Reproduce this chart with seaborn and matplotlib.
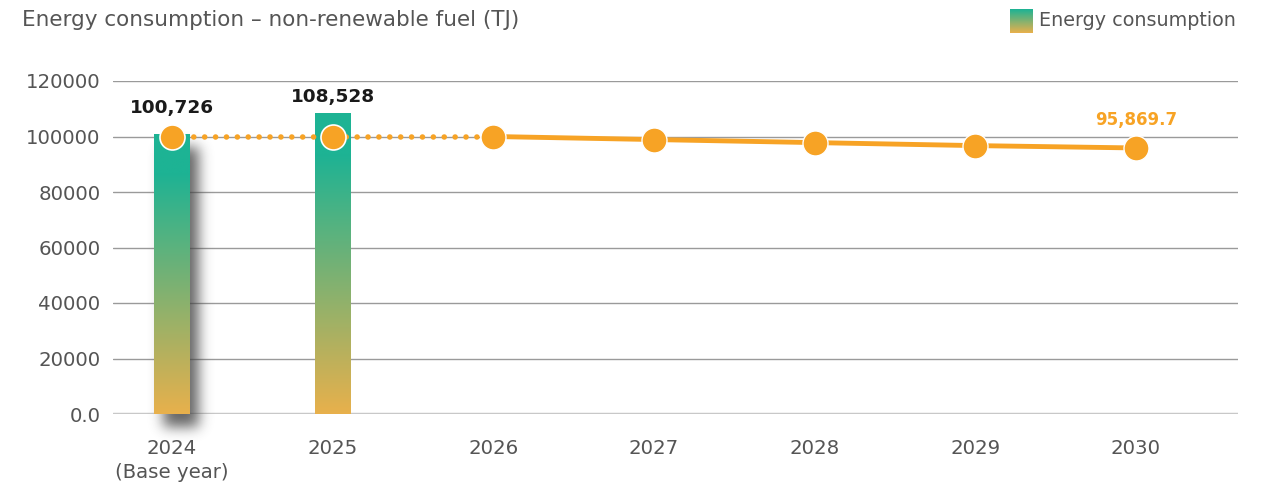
import numpy as np
import pandas as pd
import matplotlib
matplotlib.use("Agg")
import matplotlib.pyplot as plt
import seaborn as sns
from matplotlib.colors import LinearSegmentedColormap

# ---------------- data ----------------
years = [2024, 2025, 2026, 2027, 2028, 2029, 2030]
year_labels = ["2024\n(Base year)", "2025", "2026", "2027", "2028", "2029", "2030"]
bar_years = [2024, 2025]
bar_values = [100726, 108528]
bar_labels = ["100,726", "108,528"]
dotted_years = [2024, 2025, 2026]
dotted_values = [100000, 100000, 100000]
solid_years = [2026, 2027, 2028, 2029, 2030]
solid_values = [100000, 98900, 97800, 96720, 95869.7]
end_label = "95,869.7"
yticks = [0, 20000, 40000, 60000, 80000, 100000, 120000]
ytick_labels = ["0.0", "20000", "40000", "60000", "80000", "100000", "120000"]
title = "Energy consumption \u2013 non-renewable fuel (TJ)"
legend_label = "Energy consumption"

# ---------------- style ----------------
sns.set_theme(style="white")
plt.rcParams["font.family"] = ["DejaVu Sans"]
TEXT = "#555555"
ORANGE = "#f7a325"
TEAL = "#1db394"
GOLD = "#e8b04c"
cmap = LinearSegmentedColormap.from_list(
    "bargrad", [(0.0, GOLD), (0.86, TEAL), (1.0, TEAL)])

W_PX, H_PX = 1278, 488
fig = plt.figure(figsize=(W_PX / 100, H_PX / 100), dpi=100)
fig.patch.set_facecolor("white")
ax_l, ax_r, ax_t, ax_b = 113, 1238, 81, 414
ax = fig.add_axes([ax_l / W_PX, 1 - ax_b / H_PX,
                   (ax_r - ax_l) / W_PX, (ax_b - ax_t) / H_PX])

# bars
df_bar = pd.DataFrame({"year": bar_years, "value": bar_values})
sns.barplot(data=df_bar, x="year", y="value", native_scale=True,
            width=0.22, color=TEAL, ax=ax, zorder=2, errorbar=None)

xmin, xmax = years[0] - 0.367, years[-1] + 0.635
ax.set_xlim(xmin, xmax)
ax.set_ylim(0, 120000)

# gradient fill for bars
bar_patches = list(ax.patches)
for p in bar_patches:
    x0 = p.get_x()
    w = p.get_width()
    h = p.get_height()
    grad = np.linspace(0, 1, 256).reshape(-1, 1)
    im = ax.imshow(grad, cmap=cmap, extent=[x0, x0 + w, 0, h], origin="lower",
                   aspect="auto", zorder=2.1, interpolation="bilinear")
    im.set_clip_path(p)
    p.set_facecolor("none")
    p.set_edgecolor("none")
ax.set_xlim(xmin, xmax)
ax.set_ylim(0, 120000)

# soft drop shadow for the first bar
p = bar_patches[0]
x0, w, h = p.get_x(), p.get_width(), p.get_height()
(px0, py0) = ax.transData.transform((x0, 0))
(px1, py1) = ax.transData.transform((x0 + w, h))
dx, dy, sigma, pad = 9, -13, 6.5, 30
X0, X1 = px0 + dx - pad, px1 + dx + pad
Y0, Y1 = py0 + dy - pad, py1 + dy + pad
Wd, Hd = int(round(X1 - X0)), int(round(Y1 - Y0))
xs = X0 + np.arange(Wd) + 0.5
ys = Y1 - np.arange(Hd) - 0.5
mask = (((xs >= px0 + dx) & (xs <= px1 + dx))[None, :] &
        ((ys >= py0 + dy) & (ys <= py1 + dy))[:, None]).astype(float)
k = np.arange(-int(3 * sigma), int(3 * sigma) + 1)
kern = np.exp(-0.5 * (k / sigma) ** 2)
kern /= kern.sum()
blur = np.apply_along_axis(lambda r: np.convolve(r, kern, mode="same"), 1, mask)
blur = np.apply_along_axis(lambda c: np.convolve(c, kern, mode="same"), 0, blur)
img = np.zeros((Hd, Wd, 4))
img[..., :3] = 0.25
img[..., 3] = blur * 0.8
inv = ax.transData.inverted()
dX0, dY0 = inv.transform((X0, Y0))
dX1, dY1 = inv.transform((X1, Y1))
ax.imshow(img, extent=[dX0, dX1, dY0, dY1], origin="upper", aspect="auto",
          zorder=1.9, clip_on=False, interpolation="bilinear")
ax.set_xlim(xmin, xmax)
ax.set_ylim(0, 120000)

# target line: dotted part then solid part
sns.lineplot(x=dotted_years, y=dotted_values, ax=ax, color=ORANGE,
             linewidth=4.0, linestyle=(0, (0.01, 1.95)), dash_capstyle="round",
             marker="o", markersize=18, markerfacecolor=ORANGE,
             markeredgecolor="white", markeredgewidth=1.2, zorder=4)
sns.lineplot(x=solid_years, y=solid_values, ax=ax, color=ORANGE,
             linewidth=3.5, marker="o", markersize=18, markerfacecolor=ORANGE,
             markeredgecolor="white", markeredgewidth=1.0, zorder=4)

# grid & axes
ax.set_yticks(yticks)
ax.set_yticklabels(ytick_labels)
ax.set_xticks(years)
ax.set_xticklabels(year_labels, linespacing=1.3)
ax.yaxis.grid(True, color="#9a9a9a", linewidth=1.0)
ax.set_axisbelow(True)
ax.axhline(0, color="#c8c8c8", linewidth=2.5, zorder=1.5)
for s in ax.spines.values():
    s.set_visible(False)
ax.tick_params(axis="y", length=0, pad=9, labelsize=14.2, labelcolor=TEXT)
ax.tick_params(axis="x", length=0, pad=18, labelsize=14.2, labelcolor=TEXT)
ax.set_xlabel("")
ax.set_ylabel("")

# data labels
for yr, v, lab, lv in zip(bar_years, bar_values, bar_labels, dotted_values):
    top_px = max(ax.transData.transform((yr, v))[1],
                 ax.transData.transform((yr, lv))[1] + 12.5)
    bar_px = ax.transData.transform((yr, v))[1]
    off = (top_px - bar_px) + 7
    ax.annotate(lab, xy=(yr, v), xytext=(0, off * 72 / 100),
                textcoords="offset points", ha="center", va="bottom",
                fontsize=13.3, fontweight="bold", color="#1a1a1a",
                annotation_clip=False)
ax.annotate(end_label, xy=(solid_years[-1], solid_values[-1]),
            xytext=(0, 14), textcoords="offset points", ha="center",
            va="bottom", fontsize=12, fontweight="bold", color=ORANGE,
            annotation_clip=False)

# title
fig.text(22 / W_PX, 1 - 20 / H_PX, title, ha="left", va="center",
         fontsize=15.5, color=TEXT)

# legend: gradient swatch + label
lax = fig.add_axes([1010 / W_PX, 1 - 33 / H_PX, 23 / W_PX, 24 / H_PX])
lax.imshow(np.linspace(0, 1, 64).reshape(-1, 1), cmap=LinearSegmentedColormap.from_list(
    "lg", [GOLD, TEAL]), origin="lower", aspect="auto", extent=[0, 1, 0, 1])
lax.set_axis_off()
fig.text(1039 / W_PX, 1 - 21 / H_PX, legend_label, ha="left", va="center",
         fontsize=13.8, color=TEXT)

fig.savefig("out.png", dpi=100, facecolor="white")
